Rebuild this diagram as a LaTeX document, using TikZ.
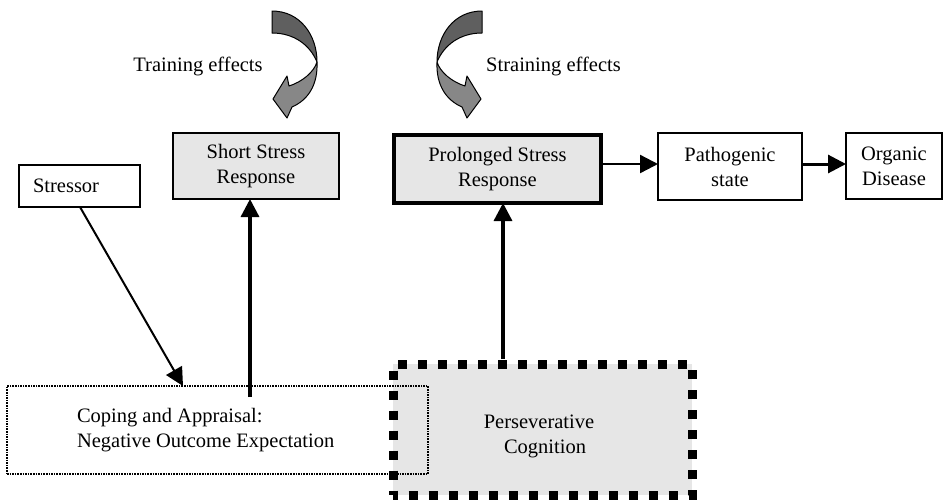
\documentclass[tikz,border=0pt]{standalone}
\usepackage{fontspec}
\setmainfont{Liberation Serif}
\usetikzlibrary{arrows.meta,calc}
\definecolor{boxgray}{RGB}{230,230,230}
\definecolor{arrdark}{RGB}{95,95,95}
\definecolor{arrlight}{RGB}{135,135,135}
\begin{document}
\begin{tikzpicture}[x=1pt,y=-1pt,
  every node/.style={font=\fontsize{20.5}{25}\selectfont, inner sep=0pt, outer sep=0pt},
  box/.style={draw, rectangle, align=center},
  tipped/.style={-{Triangle[length=18pt,width=18pt]}},
  bandup/.style={fill=arrdark, draw=black, line width=1pt, line join=round},
  banddown/.style={fill=arrlight, draw=black, line width=1pt, line join=round}]
\useasboundingbox (0,0) rectangle (944,501);

% curved arrows
\newcommand{\curvedarrow}{%
  \path[banddown] (317,62) .. controls (318,85) and (308,100) .. (292,107) -- (287,118) -- (273,99) -- (287,76) -- (289,86) .. controls (302,82) and (314,72) .. (317,62) -- cycle;
  \path[bandup] (272,11) .. controls (300,11) and (317,35) .. (317,62) .. controls (310,45) and (294,33) .. (272,33) -- cycle;}
\curvedarrow
\begin{scope}[shift={(754,0)}, xscale=-1]
\curvedarrow
\end{scope}

\node (trainlbl) at (198,66) {Training effects};
\node (strainlbl) at (553.5,66) {Straining effects};

% boxes
\node[box, line width=1.5pt, minimum width=121pt, minimum height=42pt, text width=93pt, align=flush left] (stressor) at (79.5,186) {Stressor};
\node[box, fill=boxgray, line width=2pt, minimum width=166pt, minimum height=66pt] (short) at (256,166) {Short Stress\\Response};
\node[box, fill=boxgray, line width=3.5pt, minimum width=207pt, minimum height=68pt] (prolonged) at (497.5,169) {Prolonged Stress\\Response};
\node[box, line width=2pt, minimum width=144pt, minimum height=67pt] (pathogenic) at (730,166.5) {Pathogenic\\state};
\node[box, line width=2pt, minimum width=96pt, minimum height=66pt] (organic) at (894,166) {Organic\\Disease};

\node[box, fill=boxgray, line width=9pt, dash pattern=on 9pt off 11pt, dash phase=4.5pt, minimum width=299pt, minimum height=131pt] (persev) at (542.5,429.5) {};
\node[align=center] (persevtext) at (539,436) {Perseverative\\\hspace*{12pt}Cognition};
\node[draw, line width=1.2pt, dash pattern=on 1.6pt off 1pt, minimum width=421pt, minimum height=88pt, text width=281pt, align=flush left] (coping) at (217.5,430) {Coping and Appraisal:\\Negative Outcome Expectation};

% connectors
\draw[line width=2pt, tipped] ($(stressor.south west)+(61,0)$) -- ($(coping.north west)+(176,0)$);
\coordinate (cs) at ($(coping.north west)+(243,11)$);
\draw[line width=3.3pt, tipped] (cs) -- (cs |- short.south);
\coordinate (ps) at ($(persev.north west)+(110,-5)$);
\draw[line width=3.3pt, tipped] (ps) -- (ps |- prolonged.south);
\coordinate (h1) at ($(prolonged.east)+(0,-5)$);
\draw[line width=2.3pt, tipped] (h1) -- (h1 -| pathogenic.west);
\draw[line width=3pt, tipped] (h1 -| pathogenic.east) -- (h1 -| organic.west);
\end{tikzpicture}
\end{document}
